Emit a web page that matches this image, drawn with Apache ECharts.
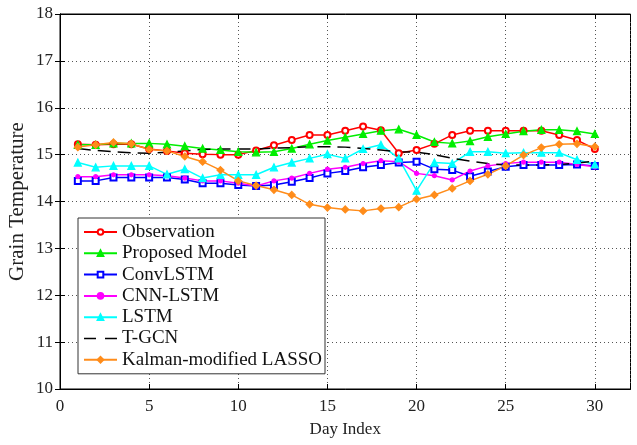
<!DOCTYPE html>
<html><head><meta charset="utf-8">
<script src="https://cdn.jsdelivr.net/npm/echarts@6/dist/echarts.min.js"></script>
<style>html,body{margin:0;padding:0;background:#fff}#c{width:637px;height:445px}</style>
</head><body><div id="c"></div>
<script>
const days = [1,2,3,4,5,6,7,8,9,10,11,12,13,14,15,16,17,18,19,20,21,22,23,24,25,26,27,28,29,30];
const observation = [15.22,15.21,15.22,15.22,15.12,15.08,15.03,15.01,15.0,15.0,15.09,15.2,15.31,15.42,15.42,15.51,15.6,15.52,15.03,15.1,15.23,15.42,15.51,15.51,15.51,15.51,15.51,15.42,15.31,15.12];
const proposed = [15.21,15.21,15.24,15.24,15.24,15.22,15.18,15.13,15.1,15.06,15.05,15.06,15.13,15.22,15.3,15.37,15.44,15.51,15.54,15.42,15.27,15.24,15.29,15.38,15.44,15.5,15.53,15.53,15.5,15.44];
const convLSTM = [14.44,14.44,14.51,14.51,14.51,14.51,14.47,14.39,14.39,14.35,14.33,14.35,14.42,14.5,14.6,14.65,14.73,14.78,14.83,14.85,14.69,14.67,14.54,14.64,14.74,14.78,14.78,14.78,14.79,14.76];
const cnnLSTM = [14.53,14.53,14.57,14.57,14.57,14.55,14.5,14.44,14.44,14.39,14.33,14.44,14.5,14.6,14.69,14.73,14.81,14.87,14.85,14.6,14.55,14.46,14.65,14.76,14.81,14.84,14.84,14.84,14.79,14.74];
const lstm = [14.83,14.73,14.76,14.76,14.76,14.58,14.69,14.5,14.57,14.57,14.57,14.73,14.83,14.92,15.01,14.92,15.12,15.21,14.92,14.23,14.83,14.81,15.06,15.06,15.03,15.04,15.04,15.04,14.89,14.79];
const tgcn = [15.13,15.09,15.06,15.04,15.03,15.05,15.08,15.11,15.12,15.12,15.12,15.14,15.15,15.17,15.17,15.16,15.13,15.1,15.06,15.05,15.0,14.92,14.86,14.81,14.78,14.78,14.78,14.79,14.82,14.86];
const kalman = [15.16,15.21,15.26,15.23,15.11,15.08,14.96,14.85,14.67,14.44,14.34,14.25,14.14,13.94,13.87,13.83,13.8,13.85,13.88,14.05,14.14,14.28,14.44,14.58,14.76,14.99,15.15,15.22,15.23,15.17];
const seriesNames = ['Observation','Proposed Model','ConvLSTM','CNN-LSTM','LSTM','T-GCN','Kalman-modified LASSO'];

const font = 'Liberation Serif, Times New Roman, serif';
const pair = arr => days.map((d,i)=>[d,arr[i]]);
function mk(name, data, color, symbol, size, dashed) {
  return {
    name, type:'line', data: pair(data), symbol: symbol, symbolSize: size,
    showSymbol: symbol !== 'none',
    itemStyle: {color: color, borderColor: color, borderWidth: 1.2},
    lineStyle: {color: color, width: 1.5, type: dashed ? [13,7] : 'solid'},
    emphasis: {disabled: true},
    z: 3
  };
}
const chart = echarts.init(document.getElementById('c'), null, {renderer:'canvas'});
const splitLine = {show:true, lineStyle:{color:'#555', type:[1,3], width:1}};
const legendData = seriesNames.map(n => n === 'T-GCN'
  ? {name:n, icon:'path://M0,0H12V1.5H0Z M21,0H33V1.5H21Z', itemStyle:{color:'#000', borderWidth:0},
     lineStyle:{width:0, opacity:0}}
  : {name:n});
chart.setOption({
  animation:false,
  backgroundColor:'#fff',
  grid:{left:60, top:14, right:6.5, bottom:56, show:true, borderColor:'#000', borderWidth:1,
        containLabel:false, outerBoundsMode:'none'},
  legend:{
    orient:'vertical', left:78, top:218, width: 250,
    data: legendData,
    backgroundColor:'#fff', borderColor:'#333', borderWidth:1,
    padding:[4.5,3,4.5,5], itemWidth:33, itemHeight:7, itemGap:2.3,
    textStyle:{fontFamily:font, fontSize:19, color:'#111', lineHeight:19},
    z: 10
  },
  xAxis:[{
    type:'value', min:0, max:32, interval:5,
    name:'Day Index', nameLocation:'middle', nameGap:32,
    nameTextStyle:{fontFamily:font, fontSize:17, color:'#222'},
    axisLine:{show:true, lineStyle:{color:'#000'}},
    axisTick:{show:true, inside:true, length:5, lineStyle:{color:'#000'}},
    axisLabel:{fontFamily:font, fontSize:17, color:'#222', margin:9,
      formatter: v => (v % 5 === 0 ? String(v) : '')},
    splitLine: splitLine
  },{
    type:'value', min:0, max:32, interval:5, position:'top',
    axisLine:{show:true, lineStyle:{color:'#000'}},
    axisTick:{show:true, inside:true, length:5, lineStyle:{color:'#000'}},
    axisLabel:{show:false}, splitLine:{show:false}
  }],
  yAxis:[{
    type:'value', min:10, max:18, interval:1,
    name:'Grain Temperature', nameLocation:'middle', nameGap:32, nameMoveOverlap:false,
    nameTextStyle:{fontFamily:font, fontSize:21, color:'#222'},
    axisLine:{show:true, lineStyle:{color:'#000'}},
    axisTick:{show:true, inside:true, length:5, lineStyle:{color:'#000'}},
    axisLabel:{fontFamily:font, fontSize:17, color:'#222', margin:7},
    splitLine: splitLine
  },{
    type:'value', min:10, max:18, interval:1, position:'right',
    axisLine:{show:true, lineStyle:{color:'#000'}},
    axisTick:{show:true, inside:true, length:5, lineStyle:{color:'#000'}},
    axisLabel:{show:false}, splitLine:{show:false}
  }],
  series:[
    mk('Observation', observation, '#ff0000', 'emptyCircle', 6),
    mk('Proposed Model', proposed, '#00ee00', 'triangle', 7),
    mk('ConvLSTM', convLSTM, '#0000ff', 'emptyRect', 6),
    mk('CNN-LSTM', cnnLSTM, '#ff00ff', 'circle', 4),
    mk('LSTM', lstm, '#00ffff', 'triangle', 7),
    mk('T-GCN', tgcn, '#000000', 'none', 0, true),
    mk('Kalman-modified LASSO', kalman, '#ff8c1a', 'diamond', 7)
  ]
});
</script></body></html>
